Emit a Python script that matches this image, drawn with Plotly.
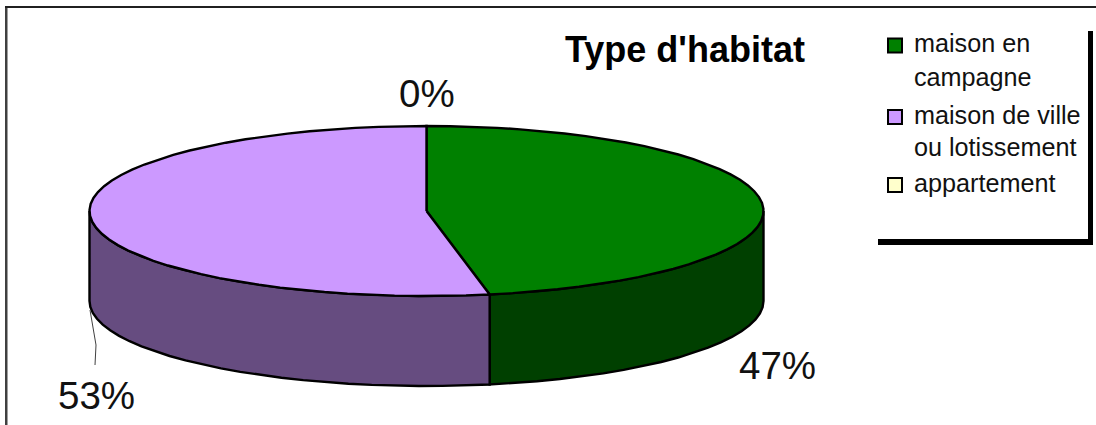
import math
import plotly.graph_objects as go

# --- data ---
categories = ["maison en campagne", "maison de ville ou lotissement", "appartement"]
legend_lines = [["maison en", "campagne"], ["maison de ville", "ou lotissement"], ["appartement"]]
values = [47, 53, 0]
value_labels = ["47%", "53%", "0%"]
top_colors = ["#008000", "#CC99FF", "#FFFFCC"]
side_colors = ["#004000", "#664C80", "#808066"]

# --- layout constants (pixel-space axes) ---
W, H = 1096, 425
CX, CY, RX, RY, DEPTH = 426.5, 211, 337, 85, 90
LABEL_POS = [(777, 365), (96, 395), (427, 93)]
LEG_MARK_X = 895
LEG_TEXT_X = 912
LEG_MARK_Y = [45.5, 117, 185]
LEG_LINE_Y = [[43, 77], [115, 147], [183]]
FONT = "Liberation Sans, Arial, sans-serif"


def pt(theta, dz=0.0):
    return CX + RX * math.sin(theta), CY - RY * math.cos(theta) + dz


def arc(a, b, dz=0.0, step=math.radians(4)):
    n = max(1, int(abs(b - a) / step))
    return [pt(a + (b - a) * i / n, dz) for i in range(n + 1)]


fig = go.Figure()
total = sum(values)
start = 0.0
wedges = []
for v in values:
    sweep = 2 * math.pi * v / total
    wedges.append((start, start + sweep))
    start += sweep

line = dict(color="black", width=2.4)

# side walls first (only the front half, pi/2..3pi/2, is visible)
for (a, b), col, name in zip(wedges, side_colors, categories):
    lo, hi = max(a, math.pi / 2), min(b, 3 * math.pi / 2)
    if hi <= lo:
        continue
    poly = arc(lo, hi) + arc(hi, lo, DEPTH)
    poly.append(poly[0])
    fig.add_trace(go.Scatter(x=[p[0] for p in poly], y=[p[1] for p in poly], mode="lines",
                             fill="toself", fillcolor=col, line=line, name=name,
                             showlegend=False, hoverinfo="skip"))

# top faces
for (a, b), col, name, v in zip(wedges, top_colors, categories, values):
    if b <= a:
        continue
    poly = [(CX, CY)] + arc(a, b) + [(CX, CY)]
    fig.add_trace(go.Scatter(x=[p[0] for p in poly], y=[p[1] for p in poly], mode="lines",
                             fill="toself", fillcolor=col, line=line, name=name,
                             showlegend=False, hoverinfo="text", text=f"{name}: {v}%"))

# legend swatches
fig.add_trace(go.Scatter(x=[LEG_MARK_X] * len(categories), y=LEG_MARK_Y, mode="markers",
                         marker=dict(symbol="square", size=14, color=top_colors,
                                     line=dict(color="black", width=2)),
                         showlegend=False, hoverinfo="skip"))

annotations = [dict(x=LEG_TEXT_X, y=yy, text=t, xref="x", yref="y", showarrow=False,
                    xanchor="left", yanchor="middle", font=dict(family=FONT, size=25.2, color="#111111"))
               for lines, ys in zip(legend_lines, LEG_LINE_Y) for t, yy in zip(lines, ys)]
annotations += [dict(x=x, y=y, text=t, xref="x", yref="y", showarrow=False,
                     xanchor="center", yanchor="middle", font=dict(family=FONT, size=38.5, color="#111111"))
                for t, (x, y) in zip(value_labels, LABEL_POS)]
annotations.append(dict(x=685, y=49, text="<b>Type d'habitat</b>", xref="x", yref="y", showarrow=False,
                        xanchor="center", yanchor="middle", font=dict(family=FONT, size=36, color="black")))


def rect(x0, y0, x1, y1, color):
    return dict(type="rect", xref="x", yref="y", x0=x0, y0=y0, x1=x1, y1=y1,
                fillcolor=color, line=dict(width=0), layer="above")


shapes = [
    rect(5, 6, 7.5, H, "#404040"),
    rect(5, 6, W, 8, "#202020"),
    rect(1088, 31, 1093, 245, "black"),
    rect(878, 239, 1093, 245, "black"),
    dict(type="path", path="M 90 310 L 96 345 L 95 365", xref="x", yref="y",
         line=dict(color="#404040", width=1)),
]

fig.update_layout(
    width=W, height=H, margin=dict(l=0, r=0, t=0, b=0),
    paper_bgcolor="white", plot_bgcolor="white", showlegend=False,
    xaxis=dict(range=[0, W], visible=False, fixedrange=True),
    yaxis=dict(range=[H, 0], visible=False, fixedrange=True),
    annotations=annotations, shapes=shapes,
)

fig.write_html("out.html", config={"displayModeBar": False},
               post_script="document.body.style.margin='0';document.body.style.overflow='hidden';")
